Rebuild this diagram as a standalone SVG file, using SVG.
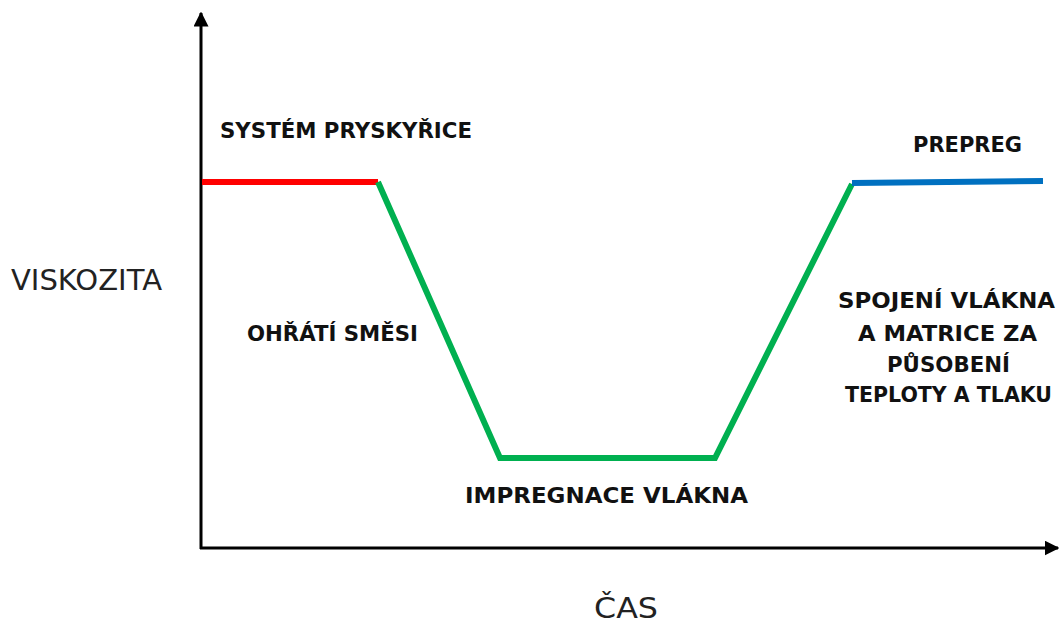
<svg xmlns="http://www.w3.org/2000/svg" width="1059" height="626" viewBox="0 0 1059 626">
<style>
.b{font-family:"DejaVu Sans","Liberation Sans",sans-serif;font-weight:bold;font-size:21px;fill:#111}
.r{font-family:"DejaVu Sans","Liberation Sans",sans-serif;font-size:28px;fill:#222}
.ax{stroke:#000;stroke-width:3;fill:none}
.seg{stroke-width:6;fill:none;stroke-linecap:butt;stroke-linejoin:miter}
</style>
<defs>
<marker id="ah" viewBox="0 0 10 10" refX="9" refY="5" markerWidth="5" markerHeight="5" orient="auto" markerUnits="strokeWidth">
<path d="M0,0 L10,5 L0,10 z" fill="#000"/>
</marker>
</defs>
<rect width="1059" height="626" fill="#fff"/>
<g id="axes">
<line class="ax" x1="201" y1="549" x2="201" y2="13" marker-end="url(#ah)"/>
<line class="ax" x1="200" y1="548" x2="1058" y2="548" marker-end="url(#ah)"/>
</g>
<g id="connectors">
<polyline class="seg" stroke="#ff0000" points="202,182 378,182"/>
<polyline class="seg" stroke="#00b050" points="378,182 500,458 715,458 852,184"/>
<polyline class="seg" stroke="#0070c0" points="852,183 1043,181"/>
</g>
<g id="n-system"><text class="b" x="220" y="138" textLength="252" lengthAdjust="spacingAndGlyphs">SYSTÉM PRYSKYŘICE</text></g>
<g id="n-prepreg"><text class="b" x="913" y="152" textLength="109" lengthAdjust="spacingAndGlyphs">PREPREG</text></g>
<g id="n-viskozita"><text class="r" x="11" y="290" textLength="151" lengthAdjust="spacingAndGlyphs">VISKOZITA</text></g>
<g id="n-ohrati"><text class="b" x="247" y="341" textLength="171" lengthAdjust="spacingAndGlyphs">OHŘÁTÍ SMĚSI</text></g>
<g id="n-impregnace"><text class="b" x="465" y="503" textLength="283" lengthAdjust="spacingAndGlyphs">IMPREGNACE VLÁKNA</text></g>
<g id="n-cas"><text class="r" x="594" y="618" textLength="64" lengthAdjust="spacingAndGlyphs">ČAS</text></g>
<g id="n-spojeni">
<text class="b" x="838" y="308" textLength="217" lengthAdjust="spacingAndGlyphs">SPOJENÍ VLÁKNA</text>
<text class="b" x="858" y="341" textLength="179" lengthAdjust="spacingAndGlyphs">A MATRICE ZA</text>
<text class="b" x="887" y="372" textLength="123" lengthAdjust="spacingAndGlyphs">PŮSOBENÍ</text>
<text class="b" x="845" y="402" textLength="207" lengthAdjust="spacingAndGlyphs">TEPLOTY A TLAKU</text>
</g>
</svg>
